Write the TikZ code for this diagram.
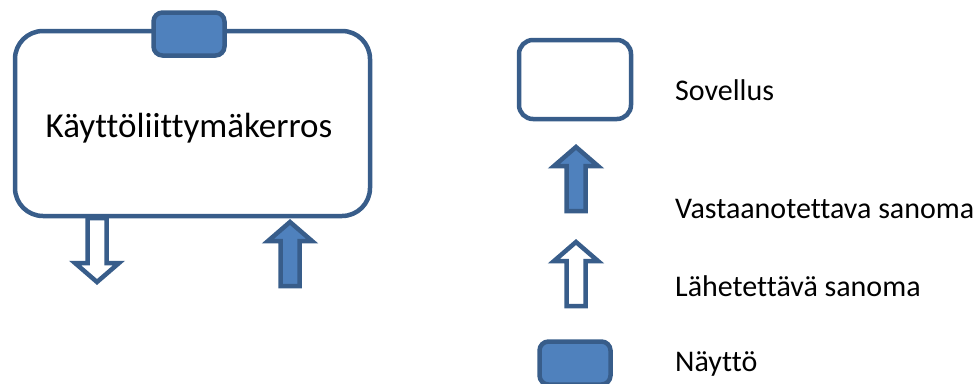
\documentclass[tikz,border=0pt]{standalone}
\usepackage{fontspec}
\setmainfont{Carlito}[Ligatures=NoCommon]
\usepackage{tikz}

\definecolor{shapeline}{HTML}{385D8A}
\definecolor{shapefill}{HTML}{4F81BD}

\tikzset{
    layer/.style={draw=shapeline, line width=4.5pt, fill=white, rectangle, rounded corners=28pt},
    screen/.style={draw=shapeline, line width=4.5pt, fill=shapefill, rectangle, rounded corners=9pt,
        minimum width=71pt, minimum height=43pt, inner sep=0pt},
    legendtext/.style={anchor=base west, inner sep=0pt, font=\fontsize{30}{36}\selectfont},
    pics/blockarrow/.style={code={
        \draw[line width=4.5pt, draw=shapeline, #1]
            (0,0) -- (22,19) -- (9.5,19) -- (9.5,\arrowlen) -- (-9.5,\arrowlen) -- (-9.5,19) -- (-22,19) -- cycle;
    }},
}
\newcommand{\arrowlen}{64}

\begin{document}
\begin{tikzpicture}[x=1pt, y=-1pt]
    \useasboundingbox (0,0) rectangle (976,383);

    % Kayttoliittymakerros with its screen
    \node[layer, minimum width=355pt, minimum height=185pt] (ui) at (192.5,123.5) {};
    \node[anchor=base, inner sep=0pt, font=\fontsize{35}{42}\selectfont] (uitext) at (189,137) {Käyttöliittymäkerros};
    \node[screen] (uiscreen) at (189,34) {};

    % messages out of and into the layer
    \pic[rotate=180] at (97,282) {blockarrow={fill=white}};
    \pic at (290,222) {blockarrow={fill=shapefill}};

    % Legend
    \node[layer, rounded corners=14pt, minimum width=112pt, minimum height=79pt] (app) at (575,79.5) {};
    \node[legendtext] (applabel) at (675,100) {Sovellus};

    \pic at (576,147) {blockarrow={fill=shapefill}};
    \node[legendtext] (inlabel) at (675,218) {Vastaanotettava sanoma};

    \pic at (576,242) {blockarrow={fill=white}};
    \node[legendtext] (outlabel) at (675,296) {Lähetettävä sanoma};

    \node[screen] (screen) at (575,363) {};
    \node[legendtext] (screenlabel) at (675,371) {Näyttö};
\end{tikzpicture}
\end{document}
